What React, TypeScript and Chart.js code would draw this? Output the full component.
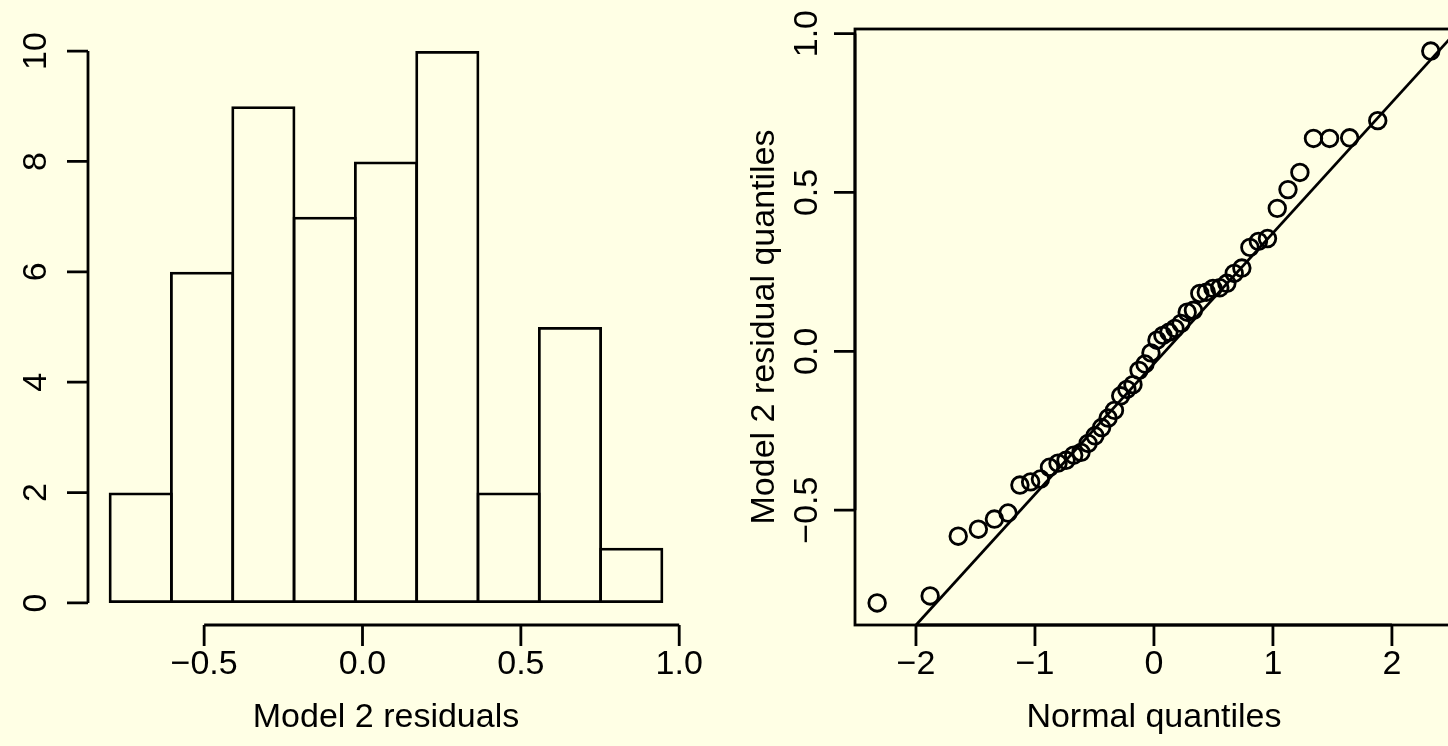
import React, { useEffect, useRef } from "react";
import { Chart, registerables } from "chart.js";

Chart.register(...registerables);

// ---------- data ----------
const histBreaks = [-0.797, -0.6034, -0.4098, -0.2162, -0.0226, 0.171, 0.3646, 0.5582, 0.7518, 0.9454];
const histCounts = [2, 6, 9, 7, 8, 10, 2, 5, 1];
const histXTicks = [-0.5, 0, 0.5, 1.0];
const histXTickLabels = ["\u22120.5", "0.0", "0.5", "1.0"];
const histYTicks = [0, 2, 4, 6, 8, 10];
const histYTickLabels = ["0", "2", "4", "6", "8", "10"];

const normalQuantiles = [
  -2.326348, -1.880794, -1.644854, -1.475791, -1.340755, -1.226528, -1.126391, -1.036433, -0.954165, -0.877896,
  -0.806421, -0.738847, -0.67449, -0.612813, -0.553385, -0.49585, -0.439913, -0.38532, -0.331853, -0.279319,
  -0.227545, -0.176374, -0.125661, -0.07527, -0.025069, 0.025069, 0.07527, 0.125661, 0.176374, 0.227545,
  0.279319, 0.331853, 0.38532, 0.439913, 0.49585, 0.553385, 0.612813, 0.67449, 0.738847, 0.806421,
  0.877896, 0.954165, 1.036433, 1.126391, 1.226528, 1.340755, 1.475791, 1.644854, 1.880794, 2.326348,
];
const residualQuantiles = [
  -0.792, -0.77, -0.582, -0.56, -0.528, -0.509, -0.421, -0.411, -0.402, -0.365,
  -0.352, -0.343, -0.327, -0.318, -0.29, -0.266, -0.24, -0.21, -0.186, -0.14,
  -0.12, -0.105, -0.06, -0.04, -0.005, 0.035, 0.05, 0.06, 0.072, 0.088,
  0.123, 0.129, 0.182, 0.186, 0.198, 0.2, 0.214, 0.245, 0.262, 0.327,
  0.346, 0.355, 0.45, 0.509, 0.563, 0.67, 0.67, 0.672, 0.726, 0.945,
];
const qqLineSlope = 0.4113;
const qqLineIntercept = -0.039;
const qqXTicks = [-2, -1, 0, 1, 2];
const qqXTickLabels = ["\u22122", "\u22121", "0", "1", "2"];
const qqYTicks = [-0.5, 0, 0.5, 1.0];
const qqYTickLabels = ["\u22120.5", "0.0", "0.5", "1.0"];

// ---------- style ----------
const BG = "#FFFFE5";
const FONT = '34px "Liberation Sans", Arial, sans-serif';
const LW = 2.8;
const TICK = 21;

type AxisSpec = {
  side: "bottom" | "left";
  ticks: number[];
  labels: string[];
  labelOffset: number;
  title?: string;
  titleOffset?: number;
};

const rAxesPlugin = {
  id: "rAxes",
  afterDraw(chart: any, _args: any, opts: any) {
    const ctx: CanvasRenderingContext2D = chart.ctx;
    const area = chart.chartArea;
    ctx.save();
    ctx.strokeStyle = "#000";
    ctx.fillStyle = "#000";
    ctx.lineWidth = LW;
    ctx.lineCap = "butt";
    ctx.font = FONT;
    if (opts.box) {
      ctx.strokeRect(area.left, area.top, area.right - area.left, area.bottom - area.top);
    }
    (opts.axes || []).forEach((ax: AxisSpec) => {
      if (ax.side === "bottom") {
        const sc = chart.scales.x;
        const y0 = area.bottom;
        const px = ax.ticks.map((t) => sc.getPixelForValue(t));
        ctx.beginPath();
        ctx.moveTo(px[0], y0);
        ctx.lineTo(px[px.length - 1], y0);
        px.forEach((p) => {
          ctx.moveTo(p, y0);
          ctx.lineTo(p, y0 + TICK);
        });
        ctx.stroke();
        ctx.textAlign = "center";
        ctx.textBaseline = "middle";
        px.forEach((p, i) => ctx.fillText(ax.labels[i], p, y0 + ax.labelOffset));
        if (ax.title) {
          ctx.fillText(ax.title, (area.left + area.right) / 2, y0 + (ax.titleOffset || 0));
        }
      } else {
        const sc = chart.scales.y;
        const x0 = area.left;
        const py = ax.ticks.map((t) => sc.getPixelForValue(t));
        ctx.beginPath();
        ctx.moveTo(x0, py[0]);
        ctx.lineTo(x0, py[py.length - 1]);
        py.forEach((p) => {
          ctx.moveTo(x0, p);
          ctx.lineTo(x0 - TICK, p);
        });
        ctx.stroke();
        ctx.textAlign = "center";
        ctx.textBaseline = "middle";
        py.forEach((p, i) => {
          ctx.save();
          ctx.translate(x0 - ax.labelOffset, p);
          ctx.rotate(-Math.PI / 2);
          ctx.fillText(ax.labels[i], 0, 0);
          ctx.restore();
        });
        if (ax.title) {
          ctx.save();
          ctx.translate(x0 - (ax.titleOffset || 0), (area.top + area.bottom) / 2);
          ctx.rotate(-Math.PI / 2);
          ctx.fillText(ax.title, 0, 0);
          ctx.restore();
        }
      }
    });
    ctx.restore();
  },
};

function HistChart() {
  const ref = useRef<HTMLCanvasElement | null>(null);
  useEffect(() => {
    if (!ref.current) return;
    const centers = histCounts.map((c, i) => ({ x: (histBreaks[i] + histBreaks[i + 1]) / 2, y: c }));
    const span = histBreaks[histBreaks.length - 1] - histBreaks[0];
    const xMin = histBreaks[0] - span * 0.04;
    const xMax = histBreaks[histBreaks.length - 1] + span * 0.04;
    const yMaxData = Math.max(...histCounts);
    const chart = new Chart(ref.current, {
      type: "bar",
      data: {
        datasets: [
          {
            data: centers as any,
            backgroundColor: "rgba(0,0,0,0)",
            borderColor: "#000",
            borderWidth: LW,
            borderSkipped: false,
            barPercentage: 1.0456,
            categoryPercentage: 1,
            inflateAmount: 0,
          } as any,
        ],
      },
      options: {
        animation: false,
        responsive: false,
        events: [],
        layout: { padding: { left: 88, top: 29, right: 40, bottom: 121 } },
        plugins: {
          legend: { display: false },
          tooltip: { enabled: false },
          rAxes: {
            box: false,
            axes: [
              { side: "bottom", ticks: histXTicks, labels: histXTickLabels, labelOffset: 40, title: "Model 2 residuals", titleOffset: 93 },
              { side: "left", ticks: histYTicks, labels: histYTickLabels, labelOffset: 51 },
            ],
          },
        } as any,
        scales: {
          x: { type: "linear", min: xMin, max: xMax, offset: false, display: false },
          y: { type: "linear", min: -yMaxData * 0.04, max: yMaxData * 1.04, display: false },
        },
      },
      plugins: [rAxesPlugin],
    });
    return () => chart.destroy();
  }, []);
  return <canvas ref={ref} width={724} height={746} style={{ position: "absolute", left: 0, top: 0 }} />;
}

function QQChart() {
  const ref = useRef<HTMLCanvasElement | null>(null);
  useEffect(() => {
    if (!ref.current) return;
    const pts = normalQuantiles.map((q, i) => ({ x: q, y: residualQuantiles[i] }));
    const xr = [Math.min(...normalQuantiles), Math.max(...normalQuantiles)];
    const yr = [Math.min(...residualQuantiles), Math.max(...residualQuantiles)];
    const xs = (xr[1] - xr[0]) * 0.04;
    const ys = (yr[1] - yr[0]) * 0.04;
    const lineData = [-4, 4].map((x) => ({ x, y: qqLineIntercept + qqLineSlope * x }));
    const chart = new Chart(ref.current, {
      type: "scatter",
      data: {
        datasets: [
          {
            data: pts,
            showLine: false,
            pointRadius: 8.3,
            pointBorderWidth: LW,
            pointBackgroundColor: "rgba(0,0,0,0)",
            pointBorderColor: "#000",
            clip: false,
          } as any,
          {
            type: "line",
            data: lineData,
            borderColor: "#000",
            borderWidth: LW,
            pointRadius: 0,
            fill: false,
            clip: 0,
          } as any,
        ],
      },
      options: {
        animation: false,
        responsive: false,
        events: [],
        layout: { padding: { left: 131, top: 29, right: 11, bottom: 121 } },
        plugins: {
          legend: { display: false },
          tooltip: { enabled: false },
          rAxes: {
            box: true,
            axes: [
              { side: "bottom", ticks: qqXTicks, labels: qqXTickLabels, labelOffset: 40, title: "Normal quantiles", titleOffset: 93 },
              { side: "left", ticks: qqYTicks, labels: qqYTickLabels, labelOffset: 47, title: "Model 2 residual quantiles", titleOffset: 90 },
            ],
          },
        } as any,
        scales: {
          x: { type: "linear", min: xr[0] - xs, max: xr[1] + xs, display: false },
          y: { type: "linear", min: yr[0] - ys, max: yr[1] + ys, display: false },
        },
      },
      plugins: [rAxesPlugin],
    });
    return () => chart.destroy();
  }, []);
  return <canvas ref={ref} width={740} height={746} style={{ position: "absolute", left: 724, top: 0 }} />;
}

export default function App() {
  useEffect(() => {
    document.body.style.margin = "0";
    document.body.style.background = BG;
    document.body.style.overflow = "hidden";
  }, []);
  return (
    <div
      style={{
        position: "fixed",
        left: 0,
        top: 0,
        width: 1448,
        height: 746,
        overflow: "hidden",
        background: BG,
      }}
    >
      <HistChart />
      <QQChart />
    </div>
  );
}
